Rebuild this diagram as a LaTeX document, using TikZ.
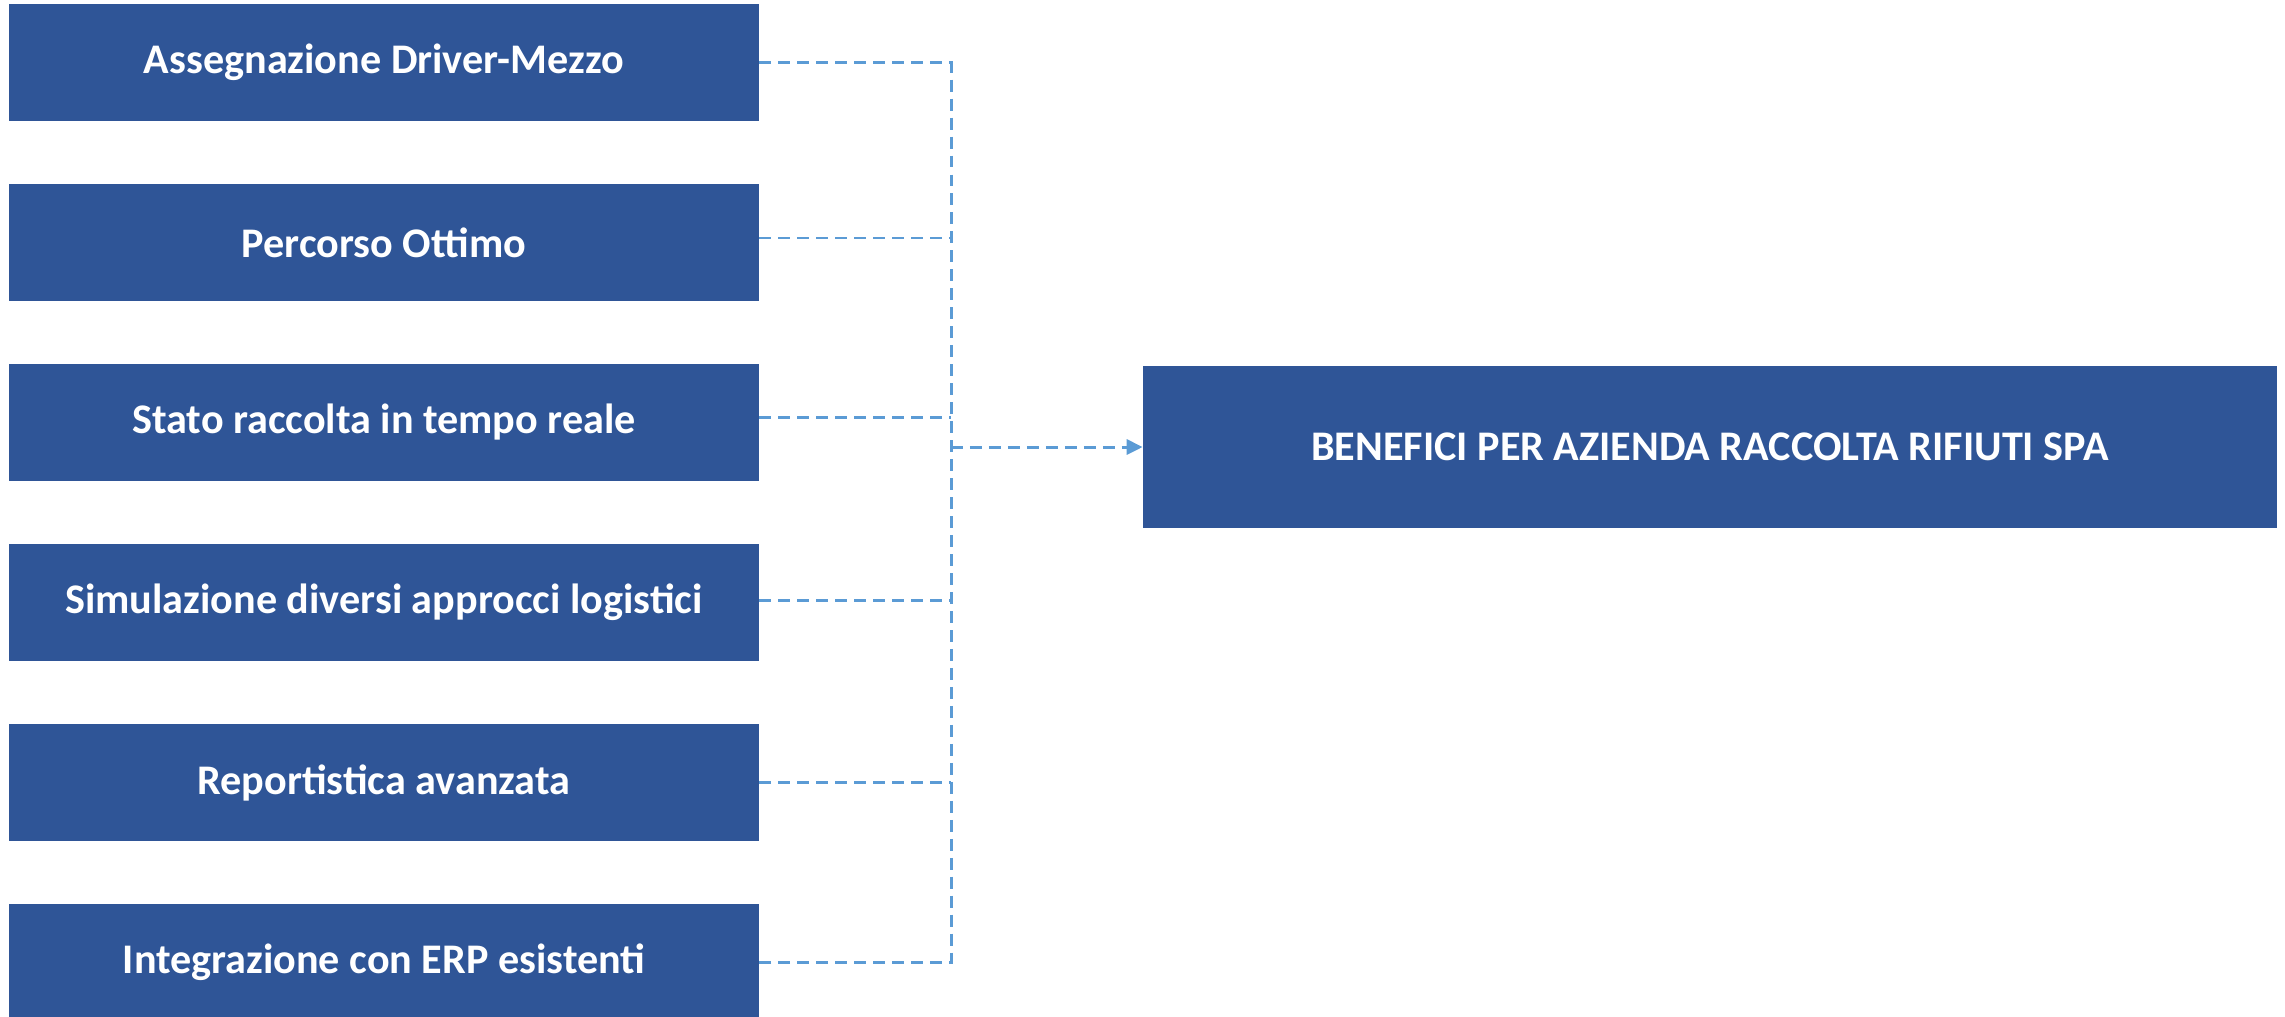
\documentclass[tikz,border=0pt]{standalone}
\usepackage{fontspec}
\setmainfont{Carlito}
\usepackage{tikz}
\usetikzlibrary{arrows.meta}
\definecolor{boxblue}{HTML}{2F5597}
\definecolor{linkblue}{HTML}{5B9BD5}

\begin{document}
\begin{tikzpicture}[scale=1,
    voce/.style={fill=boxblue, text=white, minimum width=15cm, minimum height=2.34cm,
        font=\fontsize{24}{28}\selectfont\bfseries, inner sep=0pt},
    link/.style={linkblue, line width=1.7pt, dash pattern=on 6.8pt off 4pt}]
    % Bounding box
    \useasboundingbox (0,0) rectangle (45.7,-20.32);

    % Left boxes
    \node[voce] (b1) at (7.68,-1.25)  {Assegnazione Driver-Mezzo};
    \node[voce] (b2) at (7.68,-4.85)  {Percorso Ottimo};
    \node[voce] (b3) at (7.68,-8.45)  {Stato raccolta in tempo reale};
    \node[voce] (b4) at (7.68,-12.05) {Simulazione diversi approcci logistici};
    \node[voce] (b5) at (7.68,-15.65) {Reportistica avanzata};
    \node[voce] (b6) at (7.68,-19.25) {Integrazione con ERP esistenti};

    % Right box
    \node[voce, minimum width=22.68cm, minimum height=3.24cm] (benefici) at (34.2,-8.94)
        {BENEFICI PER AZIENDA RACCOLTA RIFIUTI SPA};

    % Connectors
    \coordinate (trunk) at (19.02,-8.94);
    \draw[link] (b1.east) -| (trunk) |- (b6.east);
    \draw[link] ([yshift=0.09cm]b2.east) -- ([yshift=0.09cm]b2.east -| trunk);
    \draw[link] ([yshift=0.1cm]b3.east) -- ([yshift=0.1cm]b3.east -| trunk);
    \draw[link] ([yshift=0.04cm]b4.east) -- ([yshift=0.04cm]b4.east -| trunk);
    \draw[link] (b5.east) -- (b5.east -| trunk);
    \draw[link, -{Triangle[length=0.32cm, width=0.3cm]}] (trunk) -- (benefici.west);
\end{tikzpicture}
\end{document}
